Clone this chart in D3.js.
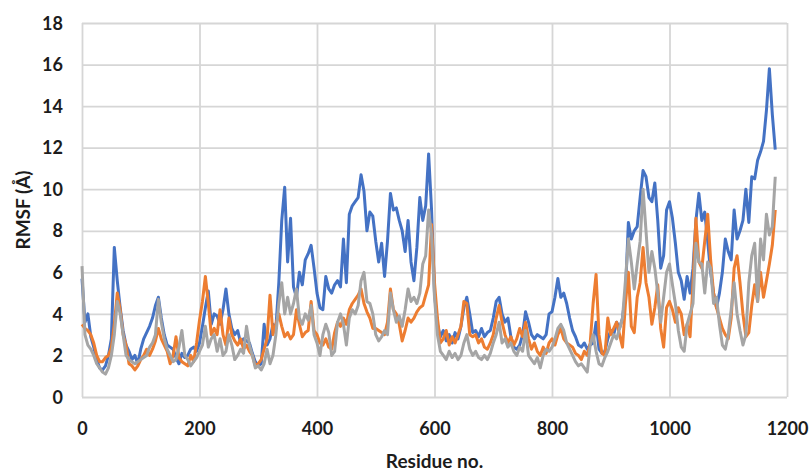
<!DOCTYPE html>
<html>
<head>
<meta charset="utf-8">
<script src="https://cdn.jsdelivr.net/npm/d3@7"></script>
<style>
  body { margin: 0; background: #fff; }
  svg text { font-family: Lato, "Open Sans", sans-serif; font-weight: 700; fill: #1c1c1c; }
</style>
</head>
<body>
<div id="chart"></div>
<script>
// residue numbers sampled every 5
const residueStep = 5
const xTicks = [0, 200, 400, 600, 800, 1000, 1200]
const yTicks = [0, 2, 4, 6, 8, 10, 12, 14, 16, 18]

const blueRmsf = [
  5.7, 3.6, 4.0, 2.9, 2.4, 1.8, 1.4, 1.3, 1.5, 2.0, 2.8, 7.2, 5.6, 4.3, 3.2, 2.5, 2.2, 1.8, 2.0, 1.6,
  2.3, 2.8, 3.1, 3.4, 3.8, 4.4, 4.8, 3.8, 3.0, 2.5, 2.4, 2.3, 1.9, 1.6, 2.1, 1.9, 2.0, 2.3, 2.4, 2.2,
  2.6, 3.4, 4.3, 5.1, 3.5, 4.0, 3.9, 3.5, 4.2, 5.2, 4.0, 3.3, 3.0, 3.2, 2.6, 2.8, 2.7, 2.6, 2.1, 1.7,
  1.5, 1.6, 3.5, 2.5, 2.8, 3.5, 3.3, 5.5, 8.5, 10.1, 6.5, 8.6, 5.3, 4.8, 6.0, 5.4, 6.6, 6.9, 7.3, 6.2,
  5.0, 4.3, 4.2, 5.8, 5.2, 5.0, 5.4, 5.6, 5.3, 7.6, 5.5, 8.8, 9.2, 9.4, 9.6, 10.7, 9.9, 8.0, 8.9, 8.7,
  7.5, 6.5, 7.4, 5.8, 7.5, 9.8, 9.0, 9.1, 8.5, 8.0, 7.0, 8.5, 6.5, 5.6, 7.2, 9.6, 8.5, 9.2, 11.7, 9.0,
  5.0, 3.5, 2.9, 3.2, 2.7, 3.0, 2.6, 3.1, 2.8, 3.4, 4.3, 4.8, 4.0, 3.1, 3.2, 2.9, 3.3, 2.9, 3.1, 3.2,
  3.8, 4.6, 4.8, 4.0, 3.6, 3.8, 2.9, 2.4, 2.3, 2.5, 3.0, 4.1, 3.6, 3.0, 2.8, 3.0, 2.9, 2.8, 3.0, 4.0,
  4.1, 4.8, 5.7, 4.8, 5.0, 4.5, 3.8, 3.2, 2.9, 2.5, 2.4, 2.6, 2.3, 2.5, 2.6, 3.6, 2.3, 2.1, 2.2, 2.8,
  3.2, 3.0, 3.6, 3.3, 3.8, 5.0, 8.4, 7.6, 8.0, 8.2, 9.6, 10.9, 10.6, 9.6, 9.4, 10.3, 8.5, 6.2, 6.8, 9.0,
  9.4, 8.6, 7.4, 6.0, 5.6, 4.7, 5.8, 5.0, 6.2, 8.5, 9.8, 8.5, 8.9, 7.5, 6.0, 5.0, 4.3, 5.0, 6.0, 7.6,
  7.0, 6.6, 9.0, 7.6, 8.0, 8.5, 10.0, 8.4, 10.6, 10.5, 11.4, 11.8, 12.3, 13.8, 15.8, 13.6, 11.9
]

const orangeRmsf = [
  3.5, 3.3, 3.2, 3.0, 2.6, 2.0, 1.7, 1.7, 1.9, 2.0, 2.4, 3.5, 5.0, 4.2, 3.0, 2.5, 1.6, 1.5, 1.3, 1.5,
  1.8, 2.0, 2.3, 2.0, 2.3, 2.7, 3.3, 2.8, 2.5, 2.2, 1.6, 2.0, 2.9, 1.9, 1.7, 1.6, 1.5, 2.0, 1.7, 2.6,
  3.7, 4.6, 5.8, 4.5, 3.0, 3.3, 3.0, 4.2, 3.0, 2.5, 3.8, 3.0, 2.7, 2.5, 2.8, 2.3, 2.5, 2.2, 2.0, 1.5,
  1.6, 1.8, 2.3, 2.8, 4.9, 3.0, 3.5, 4.0, 3.4, 2.9, 3.1, 2.8, 3.0, 4.2, 3.5, 2.9, 3.1, 3.2, 4.6, 3.2,
  3.0, 2.6, 2.5, 2.8, 2.4, 2.3, 3.1, 3.6, 3.4, 3.8, 3.5, 4.2, 4.5, 4.7, 4.9, 5.2, 4.5, 4.1, 3.8, 3.3,
  3.3, 3.2, 3.1, 3.0, 3.6, 5.2, 4.2, 4.0, 3.5, 2.7, 3.2, 3.8, 3.6, 3.8, 4.1, 4.3, 4.4, 4.9, 5.4, 8.3,
  5.5, 3.8, 2.6, 2.8, 3.2, 2.5, 2.9, 2.6, 3.0, 3.4, 4.6, 4.5, 3.0, 2.9, 3.0, 2.6, 2.8, 2.4, 2.3, 2.6,
  3.0, 3.8, 4.4, 3.6, 3.0, 2.6, 2.9, 2.5, 2.8, 3.3, 2.9, 3.6, 2.8, 2.3, 2.6, 2.2, 2.0, 2.4, 2.1, 2.6,
  2.8, 2.5, 3.0, 3.3, 2.8, 2.6, 2.5, 2.4, 2.1, 2.0, 1.8, 2.2, 2.0, 2.6, 4.5, 5.9, 3.0, 2.1, 2.0, 3.8,
  3.0, 3.3, 3.6, 3.0, 2.4, 4.5, 6.0, 3.4, 3.1, 4.8, 5.5, 7.2, 5.5, 4.8, 3.5, 4.3, 5.4, 3.3, 2.4, 4.3,
  4.6, 4.2, 3.6, 4.3, 4.0, 3.0, 3.5, 2.9, 5.5, 8.6, 6.5, 6.2, 7.5, 8.8, 6.6, 5.0, 4.3, 3.8, 3.3, 3.0,
  2.8, 3.8, 6.2, 6.8, 5.5, 4.0, 2.9, 3.1, 4.4, 5.4, 4.6, 6.0, 4.8, 5.6, 6.4, 7.3, 9.0
]

const grayRmsf = [
  6.3, 3.0, 2.5, 2.3, 2.0, 1.6, 1.4, 1.2, 1.1, 1.4, 2.0, 3.0, 4.6, 4.0, 3.0, 2.0, 1.8, 1.7, 1.6, 1.7,
  1.8, 1.9, 2.0, 2.4, 2.6, 3.0, 4.7, 3.6, 2.8, 2.3, 2.0, 1.7, 1.8, 2.4, 3.2, 2.0, 1.8, 1.5, 1.7, 1.9,
  2.2, 2.5, 3.4, 2.4, 2.8, 3.0, 2.2, 2.8, 2.0, 2.2, 3.0, 2.5, 1.8, 2.0, 2.3, 2.1, 3.4, 2.5, 2.0, 1.4,
  1.5, 1.3, 1.6, 2.3, 1.6, 2.0, 3.0, 4.5, 5.5, 4.0, 4.8, 4.0, 4.5, 5.2, 3.8, 3.5, 4.0, 3.7, 4.4, 3.0,
  2.6, 2.0, 3.0, 3.5, 3.1, 2.0, 2.2, 3.6, 4.0, 3.5, 2.5, 3.8, 4.2, 4.0, 4.4, 5.6, 6.0, 4.6, 4.5, 4.0,
  3.0, 2.7, 2.9, 3.2, 3.0, 5.0, 4.2, 3.6, 3.9, 3.4, 4.2, 5.2, 4.6, 4.8, 4.5, 5.0, 6.4, 6.8, 9.0, 7.8,
  4.8, 3.0, 2.2, 2.0, 1.8, 2.2, 1.9, 2.1, 1.8, 2.0, 2.6, 3.0, 2.3, 2.0, 2.2, 1.9, 1.8, 2.0, 1.8, 2.1,
  2.6, 3.0, 3.6, 2.6, 2.8, 2.4, 2.6, 2.2, 2.0, 2.4, 2.2, 3.2, 2.0, 1.8, 1.6, 1.9, 1.4, 2.0, 2.3, 2.2,
  2.4, 2.8, 3.3, 3.5, 3.2, 2.6, 2.3, 2.0, 1.7, 1.5, 1.6, 1.4, 1.2, 2.5, 3.0, 2.2, 1.6, 1.5, 1.9, 2.2,
  2.6, 3.0, 2.8, 3.3, 3.8, 5.6, 7.6, 6.5, 5.2, 6.4, 7.5, 10.0, 8.0, 6.0, 7.0, 6.2, 5.0, 3.6, 4.8, 6.0,
  6.4, 5.4, 4.5, 3.2, 2.4, 2.2, 3.5, 4.0, 4.5, 7.4, 6.5, 6.4, 5.0, 6.5, 6.2, 4.5, 4.8, 3.5, 2.5, 2.3,
  3.0, 4.2, 5.5, 4.0, 3.2, 2.5, 3.0, 5.5, 6.8, 7.4, 4.6, 7.6, 6.6, 8.8, 7.8, 8.2, 10.6
]

const seriesColors = ['#4472c4', '#ed7d31', '#a5a5a5']
const allSeries = [blueRmsf, orangeRmsf, grayRmsf]

const svgWidth = 812
const svgHeight = 473
const margin = { top: 23, right: 25, bottom: 76, left: 82 }
const width = svgWidth - margin.left - margin.right
const height = svgHeight - margin.top - margin.bottom

const svg = d3.select('#chart')
    .append('svg')
    .attr('width', svgWidth)
    .attr('height', svgHeight)

const chartGroup = svg.append('g')
    .attr('transform', `translate(${margin.left}, ${margin.top})`)

const xScale = d3.scaleLinear().domain([0, 1200]).range([0, width])
const yScale = d3.scaleLinear().domain([0, 18]).range([height, 0])

// gridlines
chartGroup.append('g')
    .call(d3.axisLeft(yScale).tickValues(yTicks).tickSize(-width).tickFormat(''))
    .call(g => g.select('.domain').remove())
    .selectAll('line').attr('stroke', '#d6d6d6').attr('stroke-width', 1.8)

chartGroup.append('g')
    .attr('transform', `translate(0, ${height})`)
    .call(d3.axisBottom(xScale).tickValues(xTicks).tickSize(-height).tickFormat(''))
    .call(g => g.select('.domain').remove())
    .selectAll('line').attr('stroke', '#d6d6d6').attr('stroke-width', 1.8)

// tick labels
const leftAxis = chartGroup.append('g')
    .call(d3.axisLeft(yScale).tickValues(yTicks).tickSize(0).tickPadding(19))
leftAxis.select('.domain').remove()
leftAxis.selectAll('text').style('font-size', '18px').attr('dy', '0.34em')

const bottomAxis = chartGroup.append('g')
    .attr('transform', `translate(0, ${height})`)
    .call(d3.axisBottom(xScale).tickValues(xTicks).tickFormat(d3.format('d')).tickSize(0).tickPadding(25))
bottomAxis.select('.domain').remove()
bottomAxis.selectAll('text').style('font-size', '18px')

// lines
const line = d3.line()
    .x((d, i) => xScale(i * residueStep))
    .y(d => yScale(d))

allSeries.forEach((values, i) => {
    chartGroup.append('path')
        .datum(values)
        .attr('fill', 'none')
        .attr('stroke', seriesColors[i])
        .attr('stroke-width', 3)
        .attr('stroke-linejoin', 'round')
        .attr('d', line)
})

// axis titles
svg.append('text')
    .attr('x', margin.left + width / 2)
    .attr('y', 468)
    .attr('text-anchor', 'middle')
    .style('font-size', '19px')
    .text('Residue no.')

svg.append('text')
    .attr('transform', `translate(30, ${margin.top + height / 2}) rotate(-90)`)
    .attr('text-anchor', 'middle')
    .style('font-size', '19px')
    .text('RMSF (Å)')
</script>
</body>
</html>
